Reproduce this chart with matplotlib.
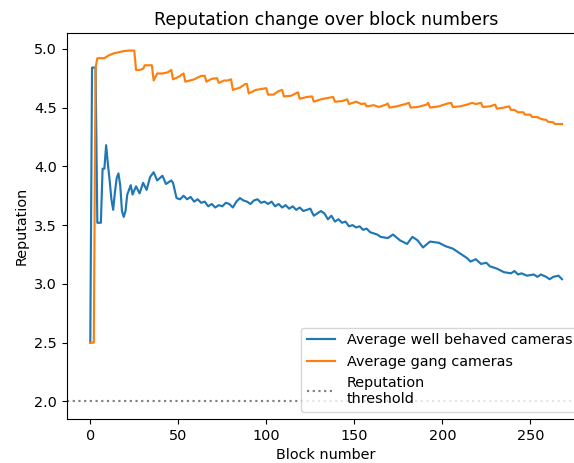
import matplotlib
matplotlib.use("Agg")
import matplotlib.pyplot as plt

# average reputation of well behaved cameras, sampled at block numbers
honest_blocks = [0, 1, 3, 4, 6, 7, 8, 9, 10, 11, 12, 13, 14, 15, 16, 17, 18, 19,
                 20, 21, 23, 24, 26, 28, 30, 32, 34, 36, 38, 41, 43, 46, 47, 49,
                 51, 53, 55, 57, 59, 61, 63, 65, 67, 69, 71, 73, 75, 77, 79, 81,
                 83, 85, 87, 89, 91, 93, 95, 97, 99, 101, 103, 105, 107, 109, 111,
                 113, 115, 117, 119, 121, 123, 125, 127, 129, 131, 133, 135, 137,
                 139, 141, 143, 145, 147, 149, 151, 153, 155, 157, 159, 161, 163,
                 165, 169, 172, 176, 180, 183, 186, 189, 193, 198, 202, 206, 210,
                 214, 216, 219, 222, 225, 227, 231, 235, 239, 241, 243, 245, 248,
                 252, 254, 256, 259, 261, 263, 266, 268]
honest_rep = [2.50, 4.84, 4.84, 3.52, 3.52, 3.98, 3.98, 4.18, 4.02, 3.88, 3.72, 3.63,
              3.78, 3.90, 3.94, 3.84, 3.62, 3.57, 3.62, 3.76, 3.84, 3.76, 3.83, 3.77,
              3.86, 3.80, 3.91, 3.95, 3.88, 3.92, 3.85, 3.88, 3.86, 3.73, 3.72, 3.75,
              3.72, 3.74, 3.70, 3.72, 3.69, 3.70, 3.66, 3.68, 3.65, 3.67, 3.66, 3.69,
              3.68, 3.65, 3.70, 3.73, 3.71, 3.70, 3.68, 3.71, 3.72, 3.69, 3.70, 3.68,
              3.70, 3.66, 3.68, 3.65, 3.67, 3.64, 3.66, 3.63, 3.65, 3.62, 3.63, 3.64,
              3.58, 3.60, 3.62, 3.60, 3.55, 3.58, 3.53, 3.55, 3.52, 3.53, 3.49, 3.50,
              3.48, 3.49, 3.46, 3.47, 3.44, 3.43, 3.42, 3.40, 3.39, 3.42, 3.37, 3.34,
              3.40, 3.37, 3.31, 3.36, 3.35, 3.32, 3.30, 3.26, 3.22, 3.19, 3.21, 3.17,
              3.18, 3.15, 3.13, 3.10, 3.09, 3.11, 3.08, 3.09, 3.07, 3.08, 3.06, 3.08,
              3.06, 3.04, 3.06, 3.07, 3.04]

# average reputation of gang cameras
gang_blocks = [0, 2, 3, 4, 6, 8, 10, 13, 16, 19, 22, 25, 26, 28, 30, 31, 35, 36,
               38, 41, 44, 46, 47, 50, 53, 54, 59, 63, 65, 66, 69, 72, 73, 76, 78,
               80, 81, 85, 88, 89, 90, 94, 98, 100, 101, 104, 107, 109, 110, 114,
               118, 119, 123, 126, 127, 131, 136, 138, 139, 143, 146, 147, 151, 154,
               156, 157, 161, 164, 168, 169, 170, 174, 179, 181, 182, 186, 191, 192,
               193, 198, 203, 205, 206, 210, 214, 217, 219, 222, 223, 227, 230, 231,
               235, 238, 239, 241, 243, 246, 247, 250, 251, 254, 255, 257, 259, 260,
               263, 264, 268]
gang_rep = [2.50, 2.50, 4.84, 4.92, 4.92, 4.92, 4.94, 4.96, 4.97, 4.98, 4.985, 4.985,
            4.82, 4.82, 4.83, 4.86, 4.86, 4.73, 4.79, 4.79, 4.80, 4.82, 4.74, 4.76,
            4.79, 4.72, 4.74, 4.77, 4.77, 4.72, 4.745, 4.75, 4.71, 4.73, 4.73, 4.74,
            4.65, 4.67, 4.70, 4.70, 4.62, 4.65, 4.66, 4.665, 4.61, 4.61, 4.64, 4.65,
            4.595, 4.60, 4.63, 4.575, 4.59, 4.595, 4.55, 4.57, 4.585, 4.59, 4.55,
            4.555, 4.57, 4.53, 4.55, 4.53, 4.535, 4.51, 4.52, 4.505, 4.525, 4.535,
            4.50, 4.51, 4.53, 4.54, 4.50, 4.505, 4.525, 4.54, 4.50, 4.51, 4.535,
            4.54, 4.505, 4.51, 4.525, 4.54, 4.53, 4.54, 4.505, 4.51, 4.525, 4.49,
            4.50, 4.51, 4.48, 4.48, 4.46, 4.46, 4.44, 4.44, 4.42, 4.42, 4.41, 4.40,
            4.395, 4.38, 4.375, 4.36, 4.36]

threshold = 2.0

plt.rcParams['font.size'] = 10.4

fig = plt.figure(figsize=(5.74, 4.63), dpi=100)
ax = fig.add_axes([0.1162, 0.095, 0.904, 0.8337])

ax.plot(honest_blocks, honest_rep, label='Average well behaved cameras', lw=1.55)
ax.plot(gang_blocks, gang_rep, label='Average gang cameras', lw=1.55)
ax.axhline(threshold, color='gray', linestyle=':', lw=1.55, label='Reputation\nthreshold')

ax.set_title('Reputation change over block numbers', fontsize=12.5)
ax.set_xlabel('Block number')
ax.set_ylabel('Reputation')
ax.legend(loc='lower right')

fig.savefig('out.png', dpi=100)
